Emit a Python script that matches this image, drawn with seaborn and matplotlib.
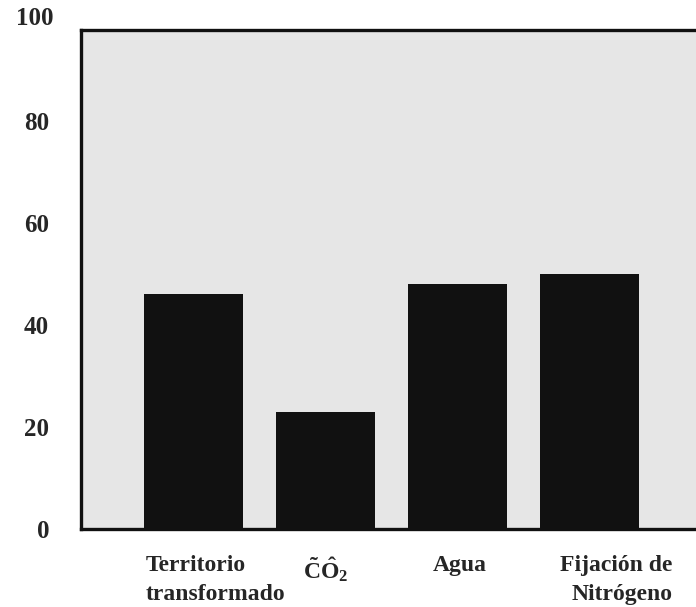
import matplotlib
matplotlib.use("Agg")
import matplotlib.pyplot as plt
import seaborn as sns

# values (percent)
categories = ["Territorio\ntransformado", r"$\mathbf{\tilde{C}\hat{O}_2}$", "Agua", "Fijación de\nNitrógeno"]
values = [46, 23, 48, 50]
y_ticks = [0, 20, 40, 60, 80]
y_top_label = 100

sns.set_style("white")
plt.rcParams['font.family'] = ['Liberation Serif', 'DejaVu Serif']
plt.rcParams['font.weight'] = 'bold'
plt.rcParams['mathtext.fontset'] = 'custom'
plt.rcParams['mathtext.rm'] = 'Liberation Serif'
plt.rcParams['mathtext.bf'] = 'Liberation Serif:bold'

fig = plt.figure(figsize=(6.96, 6.07), dpi=100)
ax = fig.add_axes([0.1164, 0.1285, 0.8836, 0.8221])
ax.set_facecolor('#e6e6e6')

sns.barplot(x=list(range(len(values))), y=values, color='#111111',
            saturation=1, width=0.75, linewidth=0, ax=ax)

ax.set_xlim(-0.85, 3.81)
ax.set_ylim(0, 97.8)

# frame: left / bottom / top, right edge runs off the page
for side in ['left', 'bottom', 'top']:
    ax.spines[side].set_visible(True)
    ax.spines[side].set_color('#111111')
    ax.spines[side].set_linewidth(2.4)
ax.spines['right'].set_visible(False)

ax.set_yticks(y_ticks)
ax.set_yticklabels([str(t) for t in y_ticks], fontsize=18, fontweight='bold')
ax.tick_params(axis='y', length=0, pad=23)
ax.annotate(str(y_top_label), xy=(0, y_top_label), xycoords=ax.get_yaxis_transform(),
            xytext=(-20, 0), textcoords='offset points', ha='right', va='center',
            fontsize=18, fontweight='bold', annotation_clip=False)

# category labels, placed like the original (not all centred)
ax.set_xticks([])
ax.set_xlabel('')
align = [('left', -34), ('center', 0), ('center', 2), ('right', 60)]
for i, (lab, (ha, dx)) in enumerate(zip(categories, align)):
    ax.annotate(lab, xy=(i, 0), xycoords=ax.get_xaxis_transform(),
                xytext=(dx, -19), textcoords='offset points',
                ha=ha, va='top', multialignment=ha, linespacing=1.45,
                fontsize=17, fontweight='bold', annotation_clip=False)

fig.savefig('out.png', dpi=100)
